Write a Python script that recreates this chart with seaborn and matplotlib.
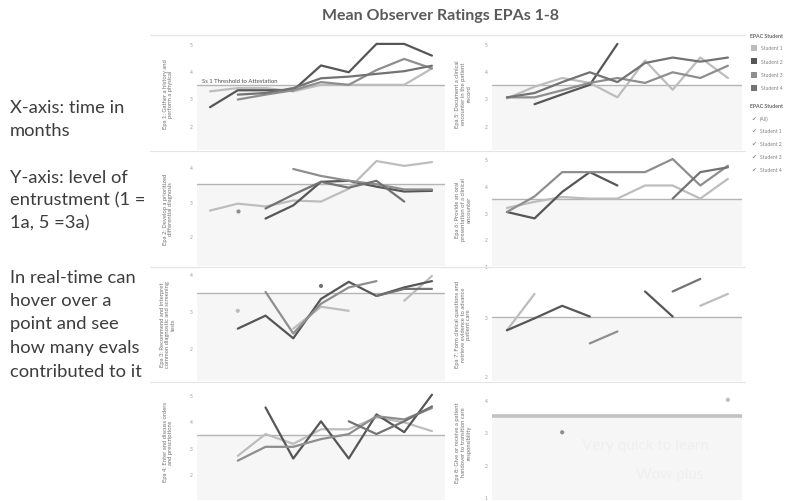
import numpy as np
import pandas as pd
import matplotlib
matplotlib.use("Agg")
import matplotlib.pyplot as plt
import seaborn as sns

sns.set_theme(style="white")
plt.rcParams['font.family'] = ['Lato', 'DejaVu Sans']

nan = np.nan

# ---- data ---------------------------------------------------------------
months = [1, 2, 3, 4, 5, 6, 7, 8, 9]
students = ["Student 1", "Student 2", "Student 3", "Student 4"]
student_colors = ["#bdbdbd", "#565656", "#8e8e8e", "#737373"]

# mean observer rating per month, one list per student (Student 1..4)
epa1 = [[3.26, 3.38, 3.38, 3.26, 3.5, 3.5, 3.5, 3.5, 4.1],
        [2.68, 3.3, 3.3, 3.3, 4.21, 3.96, 5.0, 5.0, 4.57],
        [nan, 2.96, 3.14, 3.3, 3.6, 3.5, 4.04, 4.45, 4.1],
        [nan, 3.14, 3.2, 3.38, 3.74, 3.8, 3.9, 4.0, 4.2]]
epa2 = [[2.74, 2.94, 2.86, 3.03, 3.0, 3.37, 4.17, 4.03, 4.14],
        [nan, nan, 2.51, 2.89, 3.57, 3.6, 3.43, 3.29, 3.31],
        [nan, 2.74, nan, 3.94, 3.74, 3.6, 3.5, 3.35, 3.35],
        [nan, nan, 2.8, 3.2, 3.57, 3.4, 3.6, 3.0, nan]]
epa3 = [[nan, 3.01, nan, 2.53, 3.12, 3.01, nan, 3.28, 3.95],
        [nan, 2.53, 2.88, 2.27, 3.33, 3.79, 3.41, 3.64, 3.81],
        [nan, nan, 3.52, 2.4, 3.2, 3.64, 3.81, nan, nan],
        [nan, nan, nan, nan, 3.68, nan, 3.41, 3.6, 3.6]]
epa4 = [[nan, 2.70, 3.52, 3.15, 3.7, 3.7, 4.15, 3.96, 3.63],
        [nan, nan, 4.52, 2.6, 4.0, 2.6, 4.26, 3.59, 5.0],
        [nan, 2.52, 3.04, 3.04, 3.33, 3.52, 4.19, 4.07, 4.5],
        [nan, nan, nan, nan, nan, 4.0, 3.52, 4.0, 4.56]]
epa5 = [[3.0, 3.43, 3.75, 3.57, 3.04, 4.39, 3.32, 4.5, 3.75],
        [nan, 2.79, 3.15, 3.5, 5.0, nan, nan, nan, nan],
        [3.04, 3.04, 3.3, 3.57, 3.75, 3.57, 3.96, 3.75, 4.2],
        [3.04, 3.2, 3.6, 3.96, 3.6, 4.3, 4.5, 4.35, 4.5]]
epa6 = [[3.17, 3.4, 3.58, 3.52, 3.52, 4.01, 4.01, 3.52, 4.26],
        [3.02, 2.78, 3.77, 4.51, 4.01, nan, nan, nan, nan],
        [3.02, 3.6, 4.51, 4.51, 4.51, 4.51, 5.0, 4.01, 4.75],
        [nan, nan, nan, nan, nan, nan, 3.52, 4.51, 4.69]]
epa7 = [[2.77, 3.38, nan, nan, nan, nan, nan, 3.18, 3.38],
        [2.77, 2.97, 3.18, 3.0, nan, 3.42, 3.0, nan, nan],
        [nan, nan, nan, 2.55, 2.75, nan, nan, nan, nan],
        [nan, nan, nan, nan, nan, nan, 3.42, 3.63, nan]]
epa8 = [[nan, nan, nan, nan, nan, nan, nan, nan, 4.0],
        [nan, nan, nan, nan, nan, nan, nan, nan, nan],
        [nan, nan, 3.0, nan, nan, nan, nan, nan, nan],
        [nan, nan, nan, nan, nan, nan, nan, nan, nan]]

epa_labels = [
    "Epa 1: Gather a history and\nperform a physical",
    "Epa 2: Develop a prioritized\ndifferential diagnosis",
    "Epa 3: Recommend and interpret\ncommon diagnostic and screening\ntests",
    "Epa 4: Enter and discuss orders\nand prescriptions",
    "Epa 5: Document a clinical\nencounter in the patient\nrecord",
    "Epa 6: Provide an oral\npresentation of a clinical\nencounter",
    "Epa 7: Form clinical questions and\nretrieve evidence to advance\npatient care",
    "Epa 8: Give or receive a patient\nhandover to transition care\nresponsibility",
]
thresholds = [3.5, 3.5, 3.5, 3.5, 3.5, 3.5, 3.0, 3.5]
epa_data = [epa1, epa2, epa3, epa4, epa5, epa6, epa7, epa8]

# ---- layout (pixel boxes) ----------------------------------------------
W, H = 806, 502
fig = plt.figure(figsize=(W / 100, H / 100), dpi=100)
fig.patch.set_facecolor("white")


def fx(x):
    return x / W


def fy(y):
    return 1 - y / H


col_x = [(197, 445), (492, 742)]
row_y = [(37, 151), (152, 267), (268, 382), (384, 501)]
ylims = [(1.11, 5.29), (1.14, 4.46), (1.12, 4.19), (1.04, 5.44),
         (1.11, 5.29), (1.0, 5.3), (1.92, 3.83), (0.91, 4.52)]
xlims = [(0.53, 9.47), (0.46, 9.51)]
label_x = [168, 463]

palette = dict(zip(students, student_colors))


def panel_frame(series):
    rows = []
    for student, values in zip(students, series):
        seg, prev = 0, False
        for m, v in zip(months, values):
            if np.isnan(v):
                prev = False
                continue
            if not prev:
                seg += 1
            rows.append(dict(month=m, rating=v, student=student,
                             seg=f"{student}-{seg}"))
            prev = True
    return pd.DataFrame(rows, columns=["month", "rating", "student", "seg"])


for i, series in enumerate(epa_data):
    col, row = divmod(i, 4)
    (x0, x1), (y0, y1) = col_x[col], row_y[row]
    ax = fig.add_axes([fx(x0), fy(y1), fx(x1) - fx(x0), fy(y0) - fy(y1)])
    ax.set_facecolor("white")
    lo, hi = ylims[i]
    th = thresholds[i]

    ax.axhspan(lo, th, color="#f6f6f6", zorder=0, lw=0)
    ax.axhline(th, color="#c2c2c2" if i == 7 else "#b4b4b4",
               lw=2.6 if i == 7 else 1.0, zorder=1)

    df = panel_frame(series)
    counts = df.groupby("seg")["month"].transform("size")
    lines = df[counts > 1]
    singles = df[counts == 1]
    if len(lines):
        sns.lineplot(data=lines, x="month", y="rating", hue="student",
                     units="seg", estimator=None, palette=palette,
                     lw=1.6, legend=False, ax=ax, zorder=3)
    if len(singles):
        sns.scatterplot(data=singles, x="month", y="rating", hue="student",
                        palette=palette, s=9, linewidth=0, legend=False,
                        ax=ax, zorder=4)

    ax.set_xlim(*xlims[col])
    ax.set_ylim(lo, hi)
    ticks = [t for t in range(1, 6) if lo <= t <= hi]
    ax.set_yticks(ticks)
    ax.set_yticklabels([str(t) for t in ticks], fontsize=3.5, color="#9a9a9a")
    ax.tick_params(axis="y", length=0, pad=3)
    ax.set_xticks([])
    ax.set_xlabel("")
    ax.set_ylabel("")
    for s in ax.spines.values():
        s.set_visible(False)

    fig.text(fx(label_x[col]), fy((y0 + y1) / 2), epa_labels[i],
             rotation=90, ha="center", va="center", fontsize=4.2,
             color="#707070", linespacing=1.2)

    if i == 0:
        ax.text(0.72, 3.66, "Ss 1 Threshold to Attestation", fontsize=4.2,
                color="#4a4a4a", va="center", ha="left", zorder=5)
    if i == 7:
        ax.text(6.0, 2.6, "Very quick to learn", fontsize=11,
                color="#efefef", ha="center", va="center", zorder=2)
        ax.text(6.9, 1.7, "Wow plus", fontsize=11,
                color="#efefef", ha="center", va="center", zorder=2)

# faint row separators
for y in [36, 151.5, 267.5, 383]:
    fig.add_artist(plt.Line2D([fx(150), fx(745)], [fy(y), fy(y)],
                              color="#e4e4e4", lw=0.8))

# title
fig.text(fx(441), fy(16), "Mean Observer Ratings EPAs 1-8", ha="center",
         va="center", fontsize=11.5, fontweight="bold", color="#5a5a5a")

# explanatory notes on the left
notes = [(108, "X-axis: time in"), (131, "months"),
         (178, "Y-axis: level of"), (200, "entrustment (1 ="),
         (223, "1a, 5 =3a)"),
         (278, "In real-time can"), (301, "hover over a"),
         (324, "point and see"), (348, "how many evals"),
         (372, "contributed to it")]
for y, t in notes:
    fig.text(fx(10), fy(y), t, ha="left", va="center", fontsize=13.2,
             color="#3d3d3d")

# colour legend and filter list
fig.text(fx(750), fy(36), "EPAC Student", fontsize=3.8, fontweight="bold",
         color="#666666", va="center")
for k, (name, c) in enumerate(zip(students, student_colors)):
    yy = 49 + k * 13.3
    fig.add_artist(plt.Rectangle((fx(751), fy(yy + 3)), fx(6), 6 / H,
                                 color=c, lw=0))
    fig.text(fx(761), fy(yy), name, fontsize=3.6, color="#808080",
             va="center")

fig.text(fx(750), fy(106), "EPAC Student", fontsize=3.8, fontweight="bold",
         color="#666666", va="center")
for k, name in enumerate(["(All)"] + students):
    yy = 119 + k * 12.8
    fig.text(fx(751), fy(yy), "\u2714", fontsize=4.2, color="#8a8a8a",
             va="center", family="DejaVu Sans")
    fig.text(fx(760), fy(yy), name, fontsize=3.6, color="#808080",
             va="center")

fig.savefig("out.png", dpi=100, facecolor="white")
